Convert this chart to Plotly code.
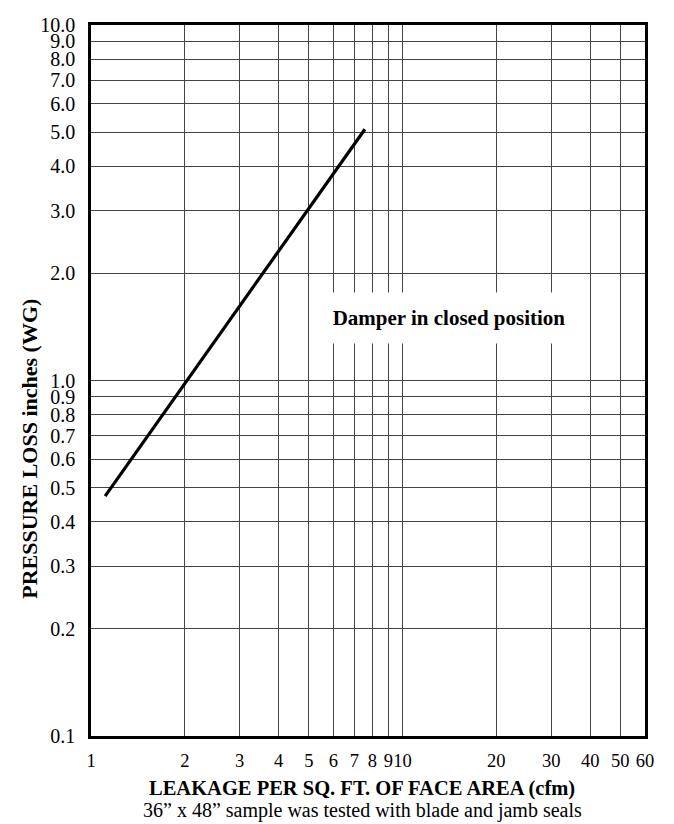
import plotly.graph_objects as go
import math

# Data
leakage_cfm = [1.11, 7.57]
pressure_wg = [0.473, 5.09]

x_tick_vals = [1, 2, 3, 4, 5, 6, 7, 8, 9, 10, 20, 30, 40, 50, 60]
x_tick_text = ["1", "2", "3", "4", "5", "6", "7", "8", "9", "10", "20", "30", "40", "50", "60"]
y_tick_vals = [0.1, 0.2, 0.3, 0.4, 0.5, 0.6, 0.7, 0.8, 0.9, 1.0,
               2.0, 3.0, 4.0, 5.0, 6.0, 7.0, 8.0, 9.0, 10.0]
y_tick_text = ["0.1", "0.2", "0.3", "0.4", "0.5", "0.6", "0.7", "0.8", "0.9", "1.0",
               "2.0", "3.0", "4.0", "5.0", "6.0", "7.0", "8.0", "9.0", "10.0"]

FONT = "Liberation Serif"

fig = go.Figure()
fig.add_trace(go.Scatter(
    x=leakage_cfm, y=pressure_wg, mode="lines",
    line=dict(color="black", width=3.2), hoverinfo="skip", showlegend=False,
))

fig.update_layout(
    width=674, height=824,
    margin=dict(l=83, r=37, t=17, b=96, autoexpand=False),
    paper_bgcolor="white", plot_bgcolor="white",
    font=dict(family=FONT, color="black", size=20),
    showlegend=False,
    xaxis=dict(
        type="log", range=[0, math.log10(60)],
        tickvals=x_tick_vals, ticktext=x_tick_text, tickangle=0,
        showgrid=True, gridcolor="#444", gridwidth=1,
        showline=True, linecolor="black", linewidth=2.5, mirror=True,
        ticks="", ticklabelstandoff=6, zeroline=False, automargin=False,
        tickfont=dict(family=FONT, size=18.5, color="black"),
    ),
    yaxis=dict(
        type="log", range=[-1, 1],
        tickvals=y_tick_vals, ticktext=y_tick_text,
        showgrid=True, gridcolor="#444", gridwidth=1,
        showline=True, linecolor="black", linewidth=2.5, mirror=True,
        ticks="", ticklabelstandoff=9, zeroline=False, automargin=False,
        tickfont=dict(family=FONT, size=20, color="black"),
    ),
)

fig.add_annotation(
    xref="paper", yref="paper", x=0.647, y=0.588,
    text="<b>Damper in closed position</b>", showarrow=False,
    font=dict(family=FONT, size=21, color="black"),
    bgcolor="white", width=278, height=50, borderpad=0,
    xanchor="center", yanchor="middle",
)

fig.add_annotation(
    xref="paper", yref="paper", x=0.49, y=0, yshift=-52,
    text="<b>LEAKAGE PER SQ. FT. OF FACE AREA (cfm)</b>", showarrow=False,
    font=dict(family=FONT, size=20.5, color="black"),
    xanchor="center", yanchor="middle",
)
fig.add_annotation(
    xref="paper", yref="paper", x=0.49, y=0, yshift=-74,
    text="36\u201d x 48\u201d sample was tested with blade and jamb seals", showarrow=False,
    font=dict(family=FONT, size=20, color="black"),
    xanchor="center", yanchor="middle",
)
fig.add_annotation(
    xref="paper", yref="paper", x=0, xshift=-61, y=0.404,
    text="<b>PRESSURE LOSS inches (WG)</b>", showarrow=False, textangle=-90,
    font=dict(family=FONT, size=22, color="black"),
    xanchor="center", yanchor="middle",
)

fig.write_html("out.html")
